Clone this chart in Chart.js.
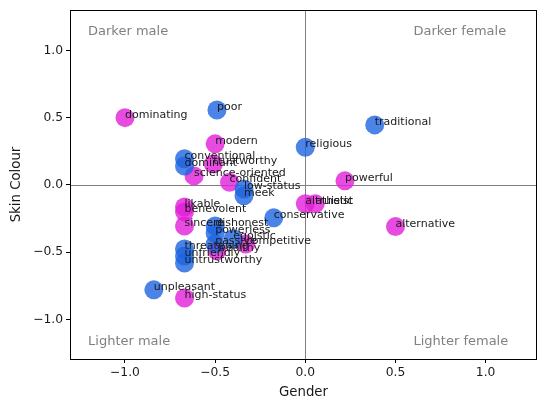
<!DOCTYPE html>
<html>
<head>
<meta charset="utf-8">
<script src="https://cdn.jsdelivr.net/npm/chart.js@4"></script>
<style>
html,body{margin:0;padding:0;background:#fff;}
#wrap{width:537px;height:402px;}
</style>
</head>
<body>
<div id="wrap"><canvas id="c" width="537" height="402"></canvas></div>
<script>
// ---- data ----
const blueLabels = ["poor","conventional","dominant","religious","traditional","low-status","meek","conservative","dishonest","powerless","egoistic","passive","threatening","unfriendly","untrustworthy","unpleasant"];
const blueX = [-0.49,-0.67,-0.67,0.0,0.385,-0.34,-0.34,-0.175,-0.5,-0.5,-0.4,-0.5,-0.67,-0.67,-0.67,-0.84];
const blueY = [0.557,0.195,0.14,0.28,0.446,-0.03,-0.08,-0.245,-0.305,-0.36,-0.40,-0.44,-0.476,-0.528,-0.58,-0.78];

const pinkLabels = ["dominating","modern","trustworthy","science-oriented","confident","powerful","altruistic","atheist","alternative","likable","benevolent","sincere","competitive","wealthy","high-status"];
const pinkX = [-1.0,-0.5,-0.51,-0.617,-0.42,0.22,0.0,0.055,0.5,-0.67,-0.67,-0.67,-0.33,-0.49,-0.67];
const pinkY = [0.5,0.305,0.155,0.067,0.02,0.03,-0.14,-0.14,-0.31,-0.164,-0.2,-0.305,-0.44,-0.49,-0.84];

const xTicks = [-1.0,-0.5,0.0,0.5,1.0];
const yTicks = [-1.0,-0.5,0.0,0.5,1.0];
const cornerTexts = [
  {text:"Darker male", x:-1.205, y:1.137},
  {text:"Darker female", x:0.6, y:1.137},
  {text:"Lighter male", x:-1.205, y:-1.167},
  {text:"Lighter female", x:0.6, y:-1.167}
];
const xTitle = "Gender";
const yTitle = "Skin Colour";

const blueColor = "rgba(30,100,225,0.8)";
const pinkColor = "rgba(225,30,215,0.8)";

function pts(xs, ys){ return xs.map((x,i)=>({x:x, y:ys[i]})); }
function fmt(v){ return (v<0?"\u2212":"") + Math.abs(v).toFixed(1); }

const overlay = {
  id:"overlay",
  beforeDatasetsDraw(chart){
    const {ctx, chartArea:a, scales:{x, y}} = chart;
    ctx.save();
    ctx.strokeStyle = "#808080";
    ctx.lineWidth = 1;
    const x0 = Math.round(x.getPixelForValue(0)) + 0.5;
    const y0 = Math.round(y.getPixelForValue(0)) + 0.5;
    ctx.beginPath();
    ctx.moveTo(x0, a.top); ctx.lineTo(x0, a.bottom);
    ctx.moveTo(a.left, y0); ctx.lineTo(a.right, y0);
    ctx.stroke();
    ctx.font = "13px 'DejaVu Sans'";
    ctx.fillStyle = "#808080";
    ctx.textBaseline = "middle";
    ctx.textAlign = "left";
    cornerTexts.forEach(c=>{
      ctx.fillText(c.text, x.getPixelForValue(c.x), y.getPixelForValue(c.y));
    });
    ctx.restore();
  },
  afterDatasetsDraw(chart){
    const {ctx, chartArea:a, scales:{x, y}} = chart;
    ctx.save();
    ctx.font = "11px 'DejaVu Sans'";
    ctx.fillStyle = "#1a1a1a";
    ctx.textBaseline = "alphabetic";
    ctx.textAlign = "left";
    blueLabels.forEach((t,i)=>ctx.fillText(t, x.getPixelForValue(blueX[i]), y.getPixelForValue(blueY[i])));
    pinkLabels.forEach((t,i)=>ctx.fillText(t, x.getPixelForValue(pinkX[i]), y.getPixelForValue(pinkY[i])));
    ctx.strokeStyle = "#000";
    ctx.lineWidth = 1;
    ctx.strokeRect(Math.round(a.left)+0.5, Math.round(a.top)+0.5, Math.round(a.right-a.left)-1, Math.round(a.bottom-a.top));
    ctx.restore();
  }
};

new Chart(document.getElementById("c"), {
  type:"scatter",
  data:{
    datasets:[
      {label:"blue", data:pts(blueX, blueY), backgroundColor:blueColor, borderWidth:0, pointRadius:9.5, pointHoverRadius:9.5},
      {label:"pink", data:pts(pinkX, pinkY), backgroundColor:pinkColor, borderWidth:0, pointRadius:9.5, pointHoverRadius:9.5}
    ]
  },
  options:{
    responsive:false,
    animation:false,
    events:[],
    layout:{autoPadding:false, padding:{left:0,right:0,top:10,bottom:0}},
    plugins:{legend:{display:false}, tooltip:{enabled:false}},
    scales:{
      x:{
        type:"linear", min:-1.305, max:1.285,
        afterBuildTicks(s){ s.ticks = xTicks.map(v=>({value:v})); },
        afterFit(s){ s.height = 43; s.paddingLeft = 0; s.paddingRight = 0; },
        ticks:{callback:(v)=>fmt(v), color:"#1a1a1a", font:{family:"DejaVu Sans", size:12.3}, padding:2, maxRotation:0, autoSkip:false},
        grid:{drawOnChartArea:false, drawTicks:true, tickLength:4, color:"#000"},
        border:{display:true, color:"#000"},
        title:{display:true, text:xTitle, color:"#1a1a1a", font:{family:"DejaVu Sans", size:13.3}, padding:{top:0,bottom:1}}
      },
      y:{
        type:"linear", min:-1.294, max:1.30,
        afterBuildTicks(s){ s.ticks = yTicks.map(v=>({value:v})); },
        afterFit(s){ s.width = 70; s.paddingTop = 0; s.paddingBottom = 0; },
        ticks:{callback:(v)=>fmt(v), color:"#1a1a1a", font:{family:"DejaVu Sans", size:12.3}, padding:3, autoSkip:false},
        grid:{drawOnChartArea:false, drawTicks:true, tickLength:4, color:"#000"},
        border:{display:true, color:"#000"},
        title:{display:true, text:yTitle, color:"#1a1a1a", font:{family:"DejaVu Sans", size:13.3}, padding:{top:9,bottom:0}}
      }
    }
  },
  plugins:[overlay]
});
</script>
</body>
</html>
